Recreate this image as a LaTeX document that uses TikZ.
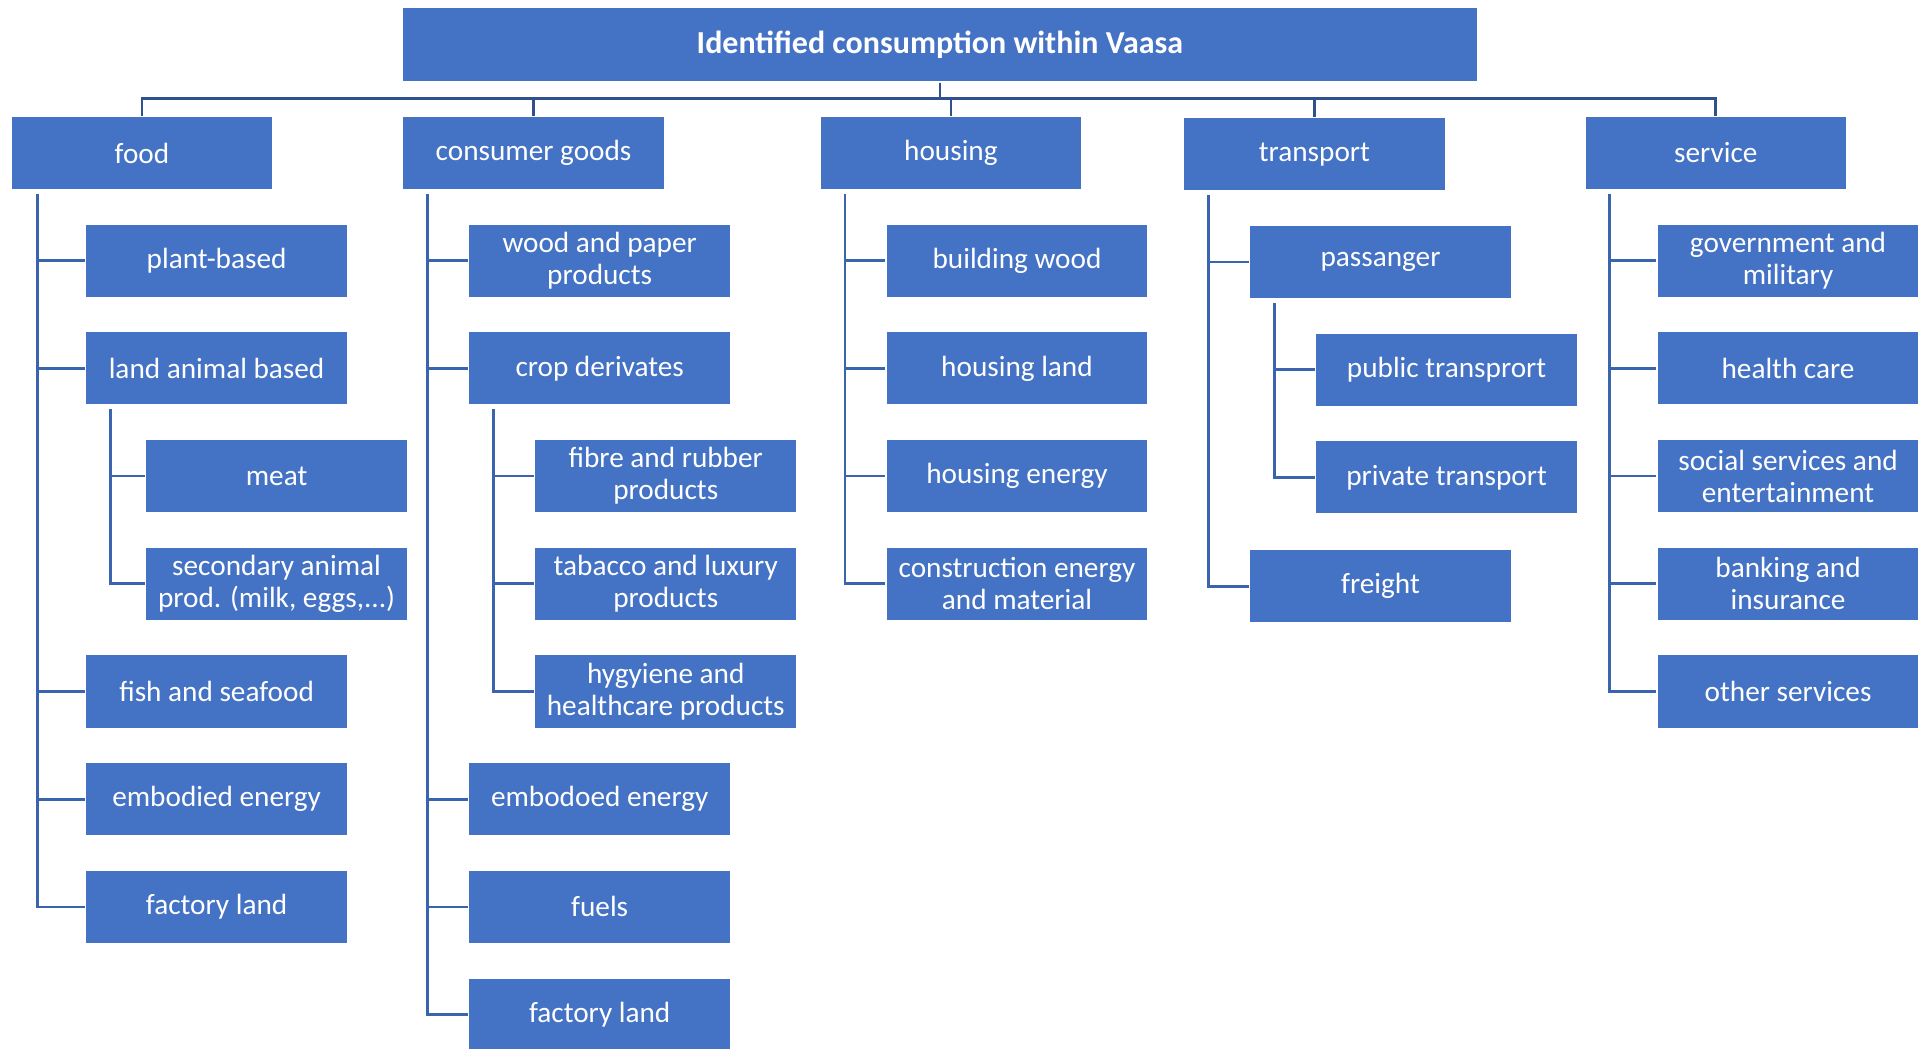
\documentclass[tikz,border=0pt]{standalone}
\usepackage{fontspec}
\setmainfont{Carlito}
\usepackage{tikz}
\usetikzlibrary{arrows,shapes,positioning,calc}
\usepackage{xcolor}
\definecolor{boxblue}{HTML}{4472C4}
\definecolor{linkblue}{HTML}{3A64AE}
\definecolor{busblue}{HTML}{2F528F}

\begin{document}
\begin{tikzpicture}[
    x=0.0125cm,
    y=-0.0125cm,
    every node/.style={
        rectangle,
        draw=white,
        line width=0.4pt,
        fill=boxblue,
        text=white,
        minimum width=2.675cm,
        minimum height=0.75cm,
        inner sep=1pt,
        align=center,
        font=\fontsize{8.5}{9.3}\selectfont
    },
    topbox/.style={minimum width=10.975cm, minimum height=0.7625cm,
        font=\bfseries\fontsize{9.3}{11}\selectfont},
    link/.style={draw=linkblue, line width=0.8pt},
    bus/.style={draw=busblue, line width=0.8pt}
]
\useasboundingbox (0,0) rectangle (1568,857);

% -------- Top --------
\node[topbox] (title) at (768,36.5) {Identified consumption within Vaasa};

% -------- Categories --------
\node (food)      at (116,125)  {food};
\node (goods)     at (436,125)  {consumer goods};
\node (housing)   at (777,125)  {housing};
\node (transport) at (1074,126) {transport};
\node (service)   at (1402,125) {service};

\draw[bus] (title.south) -- ++(0,13) -| (food.north);
\draw[bus] (title.south) -- ++(0,13) -| (goods.north);
\draw[bus] (title.south) -- ++(0,13) -| (housing.north);
\draw[bus] (title.south) -- ++(0,13) -| (transport.north);
\draw[bus] (title.south) -- ++(0,13) -| (service.north);

% -------- food --------
\node (plant)      at (177,213) {plant-based};
\node (landanimal) at (177,301) {land animal based};
\node (meat)       at (226,389) {meat};
\node (secondary)  at (226,477) {secondary animal\\prod. (milk, eggs,...)};
\node (fish)       at (177,565) {fish and seafood};
\node (foodenergy) at (177,653) {embodied energy};
\node (foodland)   at (177,741) {factory land};

\coordinate (foodT) at ($(food.south west)+(22,3)$);
\coordinate (landT) at ($(landanimal.south west)+(21,3)$);
\draw[link] (foodT) |- (plant.west);
\draw[link] (foodT) |- (landanimal.west);
\draw[link] (landT) |- (meat.west);
\draw[link] (landT) |- (secondary.west);
\draw[link] (foodT) |- (fish.west);
\draw[link] (foodT) |- (foodenergy.west);
\draw[link] (foodT) |- (foodland.west);

% -------- consumer goods --------
\node (wood)        at (490,213) {wood and paper\\products};
\node (crop)        at (490,301) {crop derivates};
\node (fibre)       at (544,389) {fibre and rubber\\products};
\node (tabacco)     at (544,477) {tabacco and luxury\\products};
\node (hygiene)     at (544,565) {hygyiene and\\healthcare products};
\node (goodsenergy) at (490,653) {embodoed energy};
\node (fuels)       at (490,741) {fuels};
\node (goodsland)   at (490,829) {factory land};

\coordinate (goodsT) at ($(goods.south west)+(21,3)$);
\coordinate (cropT) at ($(crop.south west)+(21,3)$);
\draw[link] (goodsT) |- (wood.west);
\draw[link] (goodsT) |- (crop.west);
\draw[link] (cropT) |- (fibre.west);
\draw[link] (cropT) |- (tabacco.west);
\draw[link] (cropT) |- (hygiene.west);
\draw[link] (goodsT) |- (goodsenergy.west);
\draw[link] (goodsT) |- (fuels.west);
\draw[link] (goodsT) |- (goodsland.west);

% -------- housing --------
\node (bwood)     at (831,213) {building wood};
\node (hland)     at (831,301) {housing land};
\node (henergy)   at (831,389) {housing energy};
\node (construct) at (831,477) {construction energy\\and material};

\coordinate (housingT) at ($(housing.south west)+(21,3)$);
\draw[link] (housingT) |- (bwood.west);
\draw[link] (housingT) |- (hland.west);
\draw[link] (housingT) |- (henergy.west);
\draw[link] (housingT) |- (construct.west);

% -------- transport --------
\node (passenger) at (1128,214) {passanger};
\node (public)    at (1182,302) {public transprort};
\node (private)   at (1182,390) {private transport};
\node (freight)   at (1128,479) {freight};

\coordinate (transportT) at ($(transport.south west)+(21,3)$);
\coordinate (passengerT) at ($(passenger.south west)+(21,3)$);
\draw[link] (transportT) |- (passenger.west);
\draw[link] (passengerT) |- (public.west);
\draw[link] (passengerT) |- (private.west);
\draw[link] (transportT) |- (freight.west);

% -------- service --------
\node (gov)     at (1461,213) {government and\\military};
\node (health)  at (1461,301) {health care};
\node (social)  at (1461,389) {social services and\\entertainment};
\node (banking) at (1461,477) {banking and\\insurance};
\node (other)   at (1461,565) {other services};

\coordinate (serviceT) at ($(service.south west)+(21,3)$);
\draw[link] (serviceT) |- (gov.west);
\draw[link] (serviceT) |- (health.west);
\draw[link] (serviceT) |- (social.west);
\draw[link] (serviceT) |- (banking.west);
\draw[link] (serviceT) |- (other.west);

\end{tikzpicture}
\end{document}
